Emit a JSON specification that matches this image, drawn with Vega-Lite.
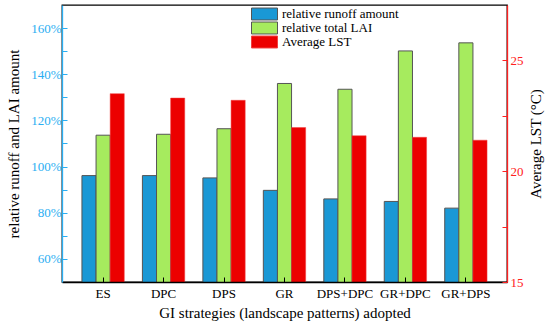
{
  "$schema": "https://vega.github.io/schema/vega-lite/v6.json",
  "width": 445,
  "height": 277,
  "autosize": "none",
  "padding": {"left": 62, "top": 5, "right": 43, "bottom": 42},
  "background": "white",
  "data": {
    "values": [
      {"strategy": "ES", "series": "relative runoff amount", "value": 0.961},
      {"strategy": "ES", "series": "relative total LAI", "value": 1.136},
      {"strategy": "ES", "series": "Average LST", "value": 23.5},
      {"strategy": "DPC", "series": "relative runoff amount", "value": 0.961},
      {"strategy": "DPC", "series": "relative total LAI", "value": 1.140},
      {"strategy": "DPC", "series": "Average LST", "value": 23.3},
      {"strategy": "DPS", "series": "relative runoff amount", "value": 0.951},
      {"strategy": "DPS", "series": "relative total LAI", "value": 1.164},
      {"strategy": "DPS", "series": "Average LST", "value": 23.2},
      {"strategy": "GR", "series": "relative runoff amount", "value": 0.897},
      {"strategy": "GR", "series": "relative total LAI", "value": 1.360},
      {"strategy": "GR", "series": "Average LST", "value": 21.97},
      {"strategy": "DPS+DPC", "series": "relative runoff amount", "value": 0.860},
      {"strategy": "DPS+DPC", "series": "relative total LAI", "value": 1.335},
      {"strategy": "DPS+DPC", "series": "Average LST", "value": 21.6},
      {"strategy": "GR+DPC", "series": "relative runoff amount", "value": 0.849},
      {"strategy": "GR+DPC", "series": "relative total LAI", "value": 1.501},
      {"strategy": "GR+DPC", "series": "Average LST", "value": 21.53},
      {"strategy": "GR+DPS", "series": "relative runoff amount", "value": 0.820},
      {"strategy": "GR+DPS", "series": "relative total LAI", "value": 1.536},
      {"strategy": "GR+DPS", "series": "Average LST", "value": 21.4}
    ]
  },
  "encoding": {
    "x": {
      "field": "strategy",
      "type": "nominal",
      "sort": ["ES", "DPC", "DPS", "GR", "DPS+DPC", "GR+DPC", "GR+DPS"],
      "scale": {"paddingInner": 0.3, "paddingOuter": 0.33},
      "axis": {
        "title": "GI strategies (landscape patterns) adopted",
        "labelAngle": 0,
        "domainColor": "black",
        "tickColor": "black",
        "tickSize": -5,
        "labelPadding": 10,
        "titlePadding": 5,
        "zindex": 1
      }
    },
    "xOffset": {
      "field": "series",
      "type": "nominal",
      "scale": {"domain": ["relative runoff amount", "relative total LAI", "Average LST"]}
    },
    "color": {
      "field": "series",
      "type": "nominal",
      "scale": {
        "domain": ["relative runoff amount", "relative total LAI", "Average LST"],
        "range": ["#1A98D5", "#A6EB5E", "#EC0000"]
      },
      "legend": {"title": null}
    },
    "stroke": {
      "field": "series",
      "type": "nominal",
      "scale": {
        "domain": ["relative runoff amount", "relative total LAI", "Average LST"],
        "range": ["#555555", "#555555", "#F04040"]
      },
      "legend": {"title": null}
    }
  },
  "layer": [
    {
      "transform": [{"filter": "datum.series != 'Average LST'"}],
      "mark": {"type": "bar", "strokeWidth": 1, "opacity": 1, "clip": true},
      "encoding": {
        "y": {
          "field": "value",
          "type": "quantitative",
          "scale": {"domain": [0.5, 1.7], "nice": false, "zero": false},
          "axis": {
            "orient": "left",
            "title": "relative runoff and LAI amount",
            "values": [0.6, 0.7, 0.8, 0.9, 1.0, 1.1, 1.2, 1.3, 1.4, 1.5, 1.6],
            "labelExpr": "round(datum.value*100) % 20 == 0 ? round(datum.value*100) + '%' : ''",
            "domainColor": "#2AAEF2",
            "tickColor": "#2AAEF2",
            "labelColor": "#2AAEF2",
            "tickSize": -5,
            "labelPadding": 6,
            "titlePadding": 9,
            "grid": false,
            "zindex": 1
          }
        }
      }
    },
    {
      "transform": [{"filter": "datum.series == 'Average LST'"}],
      "mark": {"type": "bar", "strokeWidth": 0.5, "opacity": 1, "clip": true},
      "encoding": {
        "y": {
          "field": "value",
          "type": "quantitative",
          "scale": {"domain": [15, 27.5], "nice": false, "zero": false},
          "axis": {
            "orient": "right",
            "title": "Average LST (°C)",
            "values": [15, 17.5, 20, 22.5, 25],
            "labelExpr": "datum.value % 5 == 0 ? datum.label : ''",
            "domainColor": "#FF2020",
            "tickColor": "#FF2020",
            "labelColor": "#FF2020",
            "tickSize": -5,
            "labelPadding": 8,
            "titlePadding": 20,
            "titleAngle": -90,
            "grid": false,
            "zindex": 1
          }
        }
      }
    }
  ],
  "resolve": {"scale": {"y": "independent"}},
  "config": {
    "view": {"stroke": "black", "strokeWidth": 1.3},
    "font": "Liberation Serif",
    "axis": {
      "labelFont": "Liberation Serif",
      "labelFontSize": 13,
      "titleFont": "Liberation Serif",
      "titleFontSize": 15,
      "titleFontWeight": "normal",
      "titleColor": "black",
      "labelColor": "black",
      "domainWidth": 1.3,
      "tickWidth": 1
    },
    "legend": {
      "orient": "none",
      "legendX": 189,
      "legendY": 2,
      "labelFont": "Liberation Serif",
      "labelFontSize": 13,
      "labelColor": "black",
      "symbolType": "M-1,-0.46H1V0.46H-1Z",
      "symbolSize": 676,
      "symbolStrokeWidth": 1,
      "clipHeight": 14,
      "rowPadding": 0,
      "labelOffset": 4,
      "padding": 0
    }
  }
}
